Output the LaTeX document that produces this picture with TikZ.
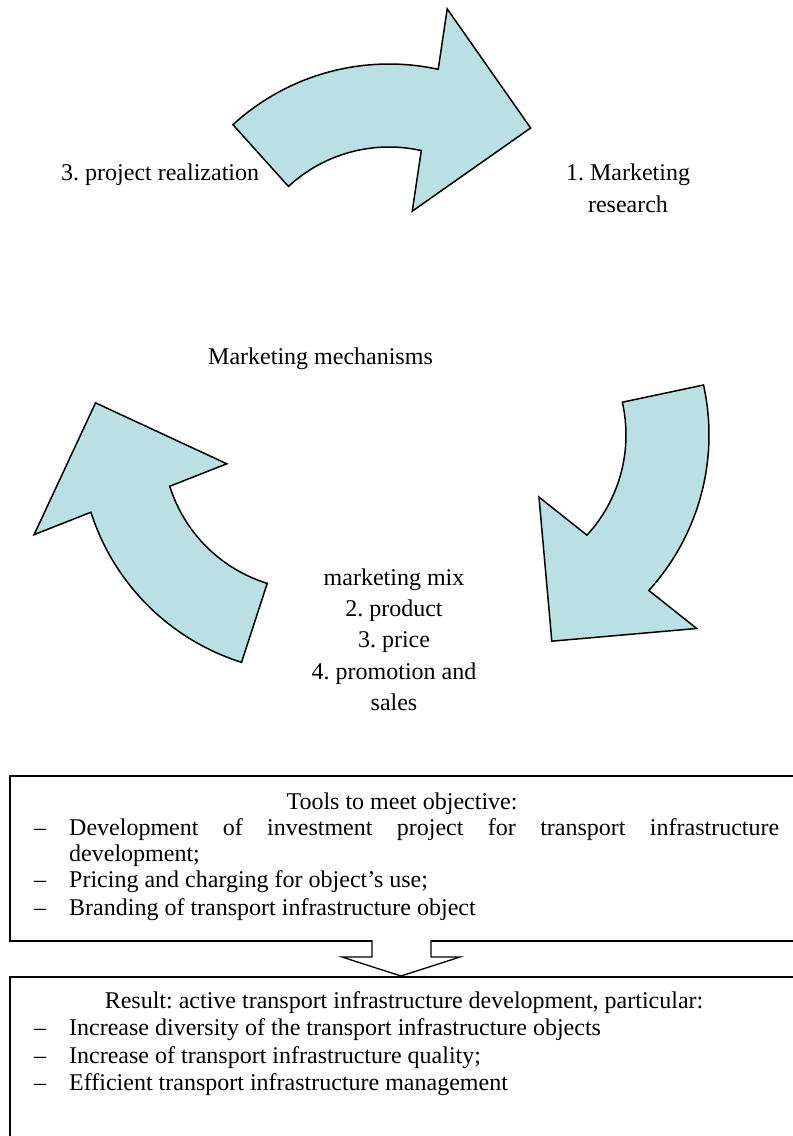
\documentclass[tikz,border=0pt]{standalone}
\usepackage{fontspec}
\setmainfont{Liberation Serif}
\definecolor{arrowfill}{HTML}{BBE0E3}
\frenchspacing
\begin{document}
\begin{tikzpicture}[x=1pt,y=-1pt,
  bigarrow/.style={fill=arrowfill, draw=black, line width=1.5pt, line join=miter},
  txt/.style={inner sep=0pt, font=\fontsize{24}{30}\selectfont},
  boxstyle/.style={draw=black, line width=1.6pt, fill=none, inner sep=0pt, anchor=north west},
  downarrow/.style={draw=black, fill=white, line width=1.3pt, line join=miter}]
\useasboundingbox (0,0) rectangle (793,1136);
\clip (0,0) rectangle (793,1136);
% three curved arrows
\foreach \cx/\cy/\ph in {389/295/-92, 478/435/28, 311/442/148} {
  \filldraw[bigarrow]
    ([shift={(\cx,\cy)}]\ph-40.5:231) arc[start angle=\ph-40.5, end angle=\ph+14.3, radius=231]
    -- ([shift={(\cx,\cy)}]\ph+13.5:292)
    -- ([shift={(\cx,\cy)}]\ph+42.3:219)
    -- ([shift={(\cx,\cy)}]\ph+17.5:87)
    -- ([shift={(\cx,\cy)}]\ph+14.6:148) arc[start angle=\ph+14.6, end angle=\ph-40.8, radius=148]
    -- cycle;
}
% upper texts
\node[txt, anchor=base west] (realiz) at (61,180) {3. project realization};
\node[txt, anchor=base] (mr1) at (628,180) {1. Marketing};
\node[txt, anchor=base] (mr2) at (628,212) {research};
\node[txt, anchor=base west] (mech) at (208,364) {Marketing mechanisms};
\node[txt, anchor=base] (mix1) at (394,585) {marketing mix};
\node[txt, anchor=base] (mix2) at (394,616) {2. product};
\node[txt, anchor=base] (mix3) at (394,647) {3. price};
\node[txt, anchor=base] (mix4) at (394,679) {4. promotion and};
\node[txt, anchor=base] (mix5) at (394,710) {sales};
% boxes
\node[boxstyle, minimum width=791, minimum height=165] (tools) at (9,775) {};
\node[boxstyle, minimum width=791, minimum height=200] (result) at (9,976) {};
% down arrow between boxes
\coordinate (sl) at (372,940);
\coordinate (sr) at (431,940);
\filldraw[downarrow] (sl) -- (372,957) -- (342,957) -- (401,976) -- (460,957) -- (431,957) -- (sr);
% box 1 text
\node[txt, anchor=base] (t0) at (402,809.5) {Tools to meet objective:};
\node[txt, anchor=base west] (d1) at (34,835.5) {–};
\node[txt, anchor=base west] (t1) at (69,835.5) {\makebox[710pt][s]{Development of investment project for transport infrastructure}};
\node[txt, anchor=base west] (t1b) at (69,861) {development;};
\node[txt, anchor=base west] (d2) at (34,887) {–};
\node[txt, anchor=base west] (t2) at (69,887) {Pricing and charging for object’s use;};
\node[txt, anchor=base west] (d3) at (34,915) {–};
\node[txt, anchor=base west] (t3) at (69,915) {Branding of transport infrastructure object};
% box 2 text
\node[txt, anchor=base] (r0) at (404,1008) {Result: active transport infrastructure development, particular:};
\node[txt, anchor=base west] (e1) at (34,1035.5) {–};
\node[txt, anchor=base west] (r1) at (69,1035.5) {Increase diversity of the transport infrastructure objects};
\node[txt, anchor=base west] (e2) at (34,1063) {–};
\node[txt, anchor=base west] (r2) at (69,1063) {Increase of transport infrastructure quality;};
\node[txt, anchor=base west] (e3) at (34,1090.5) {–};
\node[txt, anchor=base west] (r3) at (69,1090.5) {Efficient transport infrastructure management};
\end{tikzpicture}
\end{document}
